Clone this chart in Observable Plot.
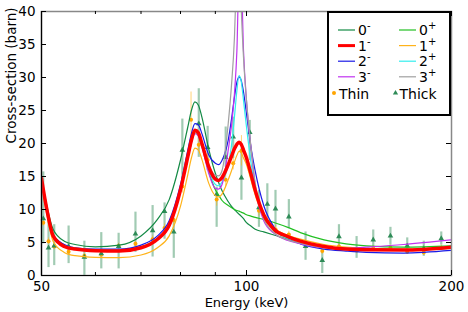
<!DOCTYPE html>
<html><head><meta charset="utf-8">
<script src="https://cdn.jsdelivr.net/npm/d3@7"></script>
<script src="https://cdn.jsdelivr.net/npm/@observablehq/plot@0.6"></script>
<style>body{margin:0;background:#fff;} svg{display:block;}</style>
</head><body><div id="chart"></div>
<script>
// Energy grid (keV) for model curves
const energy = [50, 51, 52, 54, 56, 60, 65, 70, 74, 77, 80, 82, 83, 84, 85, 86, 88, 90, 91, 92, 94, 95, 96, 96.8, 97.5, 98.2, 99, 100, 101.5, 103, 106, 110, 115, 120, 130, 140, 150, 170, 200];
// Model curves (barn)
const c0m = [14.7, 10.2, 7.0, 5.2, 4.7, 4.35, 4.6, 6.0, 8.5, 11.5, 17.5, 22.5, 25.0, 26.3, 25.8, 24.0, 19.2, 15.5, 14.1, 12.9, 11.2, 10.5, 10.0, 9.6, 9.3, 9.0, 8.6, 8.0, 7.5, 7.0, 6.6, 6.1, 5.5, 5.0, 4.4, 4.0, 3.9, 3.9, 4.1];
const c0p = [14.7, 9.7, 6.1, 4.5, 4.1, 3.85, 3.85, 4.35, 5.6, 7.7, 13.1, 18.2, 20.7, 22.1, 21.6, 19.8, 15.8, 13.0, 12.2, 11.4, 10.6, 10.3, 10.0, 9.85, 9.75, 9.6, 9.45, 9.2, 9.0, 8.8, 8.5, 8.0, 7.3, 6.5, 5.4, 4.8, 4.5, 4.3, 4.5];
const c1m = [14.7, 9.6, 6.0, 4.4, 4.0, 3.75, 3.7, 4.2, 5.5, 7.6, 13.0, 18.0, 20.5, 22.0, 21.6, 20.0, 16.5, 14.6, 14.4, 14.8, 16.8, 18.0, 19.2, 19.9, 20.2, 19.9, 19.0, 17.8, 15.4, 12.9, 9.2, 6.9, 5.9, 5.2, 4.4, 4.0, 3.9, 3.85, 4.3];
const c1p = [14.3, 8.8, 5.2, 3.5, 3.0, 2.75, 2.7, 3.1, 4.2, 6.0, 10.5, 15.3, 17.8, 19.3, 19.0, 17.6, 14.0, 12.1, 11.9, 12.3, 14.5, 15.8, 17.2, 18.2, 18.8, 18.6, 17.8, 16.8, 14.5, 12.2, 9.0, 7.1, 6.1, 5.5, 4.7, 4.3, 4.1, 4.0, 4.3];
const c2m = [14.7, 9.8, 6.2, 4.7, 4.2, 4.0, 4.0, 4.6, 6.0, 8.3, 13.8, 19.0, 21.5, 23.0, 22.8, 21.5, 18.3, 17.0, 16.8, 17.4, 20.5, 23.5, 27.0, 29.3, 30.1, 29.6, 27.8, 24.5, 19.5, 15.8, 10.6, 7.2, 5.6, 4.8, 4.0, 3.7, 3.5, 3.4, 3.8];
const c2p = [14.7, 9.7, 6.1, 4.5, 4.1, 3.85, 3.8, 4.3, 5.6, 7.7, 13.1, 18.2, 20.7, 22.1, 21.6, 19.8, 16.0, 13.8, 13.6, 14.1, 16.8, 19.5, 24.0, 28.0, 30.3, 29.5, 26.5, 22.5, 17.2, 13.2, 9.0, 6.8, 5.6, 5.0, 4.3, 4.0, 3.9, 3.9, 4.2];
const c3m = [14.7, 9.6, 6.0, 4.4, 4.0, 3.75, 3.7, 4.2, 5.4, 7.5, 12.8, 17.7, 20.1, 21.5, 21.1, 19.5, 15.5, 13.2, 13.1, 13.7, 19.0, 22.5, 27.5, 34.0, 45.0, 45.0, 34.0, 26.5, 19.5, 13.5, 8.3, 6.3, 5.3, 4.8, 4.2, 4.1, 4.3, 4.7, 5.4];
const c3p = [14.7, 9.7, 6.1, 4.5, 4.1, 3.85, 3.8, 4.3, 5.5, 7.6, 12.9, 17.8, 20.3, 21.6, 21.3, 20.0, 16.8, 15.2, 15.1, 15.8, 23.0, 28.5, 36.0, 47.0, 52.0, 41.0, 33.0, 26.5, 19.5, 14.0, 8.6, 6.4, 5.4, 4.9, 4.2, 4.0, 3.9, 3.9, 4.3];

// "Thick" measurements
const thickE  = [50.3, 51.2, 52.2, 54.8, 57.8, 61.2, 64.9, 68.7, 72.8, 75.8, 78.2, 80.5, 85.1, 87.7, 90.4, 93.2, 95.6, 98.3, 101.1, 104.3, 107.3, 110.3, 115.4, 122.1, 129.2, 136.7, 145.1, 153.5, 162.7, 172.2, 182.1, 193.2];
const thickV  = [8.6, 4.2, 4.5, 4.4, 2.8, 3.3, 4.4, 6.3, 6.8, 9.7, 6.6, 19.0, 23.0, 19.4, 12.3, 17.9, 21.0, 14.8, 21.7, 10.3, 10.8, 10.1, 8.9, 4.4, 2.3, 5.9, 3.9, 5.4, 6.0, 4.5, 4.1, 5.6];
const thickLo = [4.8, 1.2, 1.5, 1.8, 0.0, 1.0, 1.0, 3.5, 2.8, 5.5, 2.6, 13.4, 17.9, 15.9, 7.3, 16.4, 17.7, 11.4, 17.4, 7.3, 7.8, 7.3, 7.1, 2.3, 0.3, 4.2, 2.6, 3.8, 4.6, 3.4, 2.9, 4.6];
const thickHi = [15.7, 9.0, 7.7, 7.5, 5.2, 6.5, 6.4, 9.6, 10.6, 11.0, 8.6, 23.7, 28.3, 22.6, 13.4, 22.5, 24.0, 19.2, 23.5, 12.9, 13.9, 12.9, 11.5, 6.6, 3.9, 7.7, 5.9, 6.9, 7.3, 5.7, 5.2, 6.6];

// "Thin" measurements
const thinE  = [50.3, 51.2, 52.2, 54.8, 57.8, 61.2, 64.9, 68.7, 72.8, 75.8, 78.2, 80.5, 82.9, 85.1, 87.7, 90.4, 93.2, 95.6, 98.3, 101.1, 104.3, 107.3, 110.3, 115.4, 122.1, 129.2, 136.7, 145.1, 153.5, 162.7, 172.2, 182.1, 193.2];
const thinV  = [8.0, 5.2, 4.4, 3.6, 3.0, 3.2, 4.5, 4.8, 5.5, 7.2, 8.4, 13.5, 23.6, 19.8, 17.5, 11.5, 14.5, 17.0, 18.9, 16.0, 9.8, 8.2, 7.0, 6.2, 5.0, 3.7, 4.4, 3.8, 4.1, 4.2, 3.6, 3.5, 4.2];
const thinErr = [0.5, 0.5, 0.4, 0.4, 0.4, 0.4, 0.4, 0.4, 0.5, 0.6, 0.8, 1.0, 4.2, 0.8, 1.0, 1.0, 1.0, 1.0, 2.3, 1.0, 0.8, 0.7, 0.6, 0.5, 0.5, 0.5, 0.4, 0.4, 0.4, 0.4, 0.4, 0.4, 0.4];

// Axis ticks
const xMajor = [50, 100, 200];
const xMinor = [60, 70, 80, 90];
const yTicks = [0, 5, 10, 15, 20, 25, 30, 35, 40];
const xDomain = [50, 200];
const yDomain = [0, 40];

// Series meta (drawing order; 1- on top)
const seriesNames = ["0-", "0+", "1+", "2-", "2+", "3-", "3+", "1-"];
const seriesVals = [c0m, c0p, c1p, c2m, c2p, c3m, c3p, c1m];
const seriesColors = ["#138a45", "#22c022", "#ffb31a", "#1a1ae6", "#33eeee", "#c033f0", "#a0a0a0", "#ff0000"];
const seriesWidths = [1.2, 1.2, 1.2, 1.2, 1.2, 1.2, 1.2, 3.5];

const W = 468, H = 312, mL = 41, mR = 17, mT = 11, mB = 37;
const fw = W - mL - mR, fh = H - mT - mB;

const thick = thickE.map((e, i) => ({e, v: thickV[i], lo: thickLo[i], hi: thickHi[i]}));
const thin = thinE.map((e, i) => ({e, v: thinV[i], lo: thinV[i] - thinErr[i], hi: thinV[i] + thinErr[i]}));

const curveMarks = seriesVals.map((vals, k) =>
  Plot.line(energy.map((e, i) => ({e, v: vals[i]})), {
    x: "e", y: "v", stroke: seriesColors[k], strokeWidth: seriesWidths[k],
    curve: "monotone-x", clip: true
  })
);

const chart = Plot.plot({
  width: W, height: H,
  marginLeft: mL, marginRight: mR, marginTop: mT, marginBottom: mB,
  style: {fontFamily: "DejaVu Sans", fontSize: "13.5px", background: "white", color: "black"},
  x: {type: "log", domain: xDomain},
  y: {domain: yDomain},
  marks: [
    Plot.axisX({ticks: xMajor, tickSize: 0, tickPadding: 5.5, tickFormat: d => String(d), label: null}),
    Plot.axisY({ticks: yTicks, tickSize: 0, tickPadding: 6, tickFormat: d => String(d), label: null}),
    Plot.ruleX(thick, {x: "e", y1: "lo", y2: "hi", stroke: "#2e8b57", strokeOpacity: 0.45, strokeWidth: 2.2, clip: true}),
    Plot.ruleX(thin, {x: "e", y1: "lo", y2: "hi", stroke: "#ffb31a", strokeOpacity: 0.6, strokeWidth: 1, clip: true}),
    Plot.dot(thin, {x: "e", y: "v", r: 2, fill: "#ffa500", stroke: "none"}),
    Plot.dot(thick, {x: "e", y: "v", r: 2.1, symbol: "triangle", fill: "#2e8b57", stroke: "none"}),
    ...curveMarks,
    // frame: grey top/right, black left/bottom
    Plot.frame({stroke: "#888", strokeWidth: 1.5}),
    Plot.ruleY([yDomain[0]], {stroke: "black", strokeWidth: 1.2}),
    Plot.ruleX([xDomain[0]], {stroke: "black", strokeWidth: 1.2}),
    // inward ticks
    Plot.tickX(xMajor, {x: d => d, insetTop: fh - 5, stroke: "black"}),
    Plot.tickX(xMajor, {x: d => d, insetBottom: fh - 5, stroke: "black"}),
    Plot.tickX(xMinor, {x: d => d, insetTop: fh - 3, stroke: "black"}),
    Plot.tickX(xMinor, {x: d => d, insetBottom: fh - 3, stroke: "black"}),
    Plot.tickY(yTicks, {y: d => d, insetRight: fw - 5, stroke: "black"}),
    Plot.tickY(yTicks, {y: d => d, insetLeft: fw - 5, stroke: "black"}),
    Plot.text(["Energy (keV)"], {frameAnchor: "bottom", dy: 31.5, fontSize: 13}),
    Plot.text(["Cross-section (barn)"], {frameAnchor: "left", dx: -30, rotate: -90, fontSize: 13.5})
  ]
});

// Legend
const svg = d3.select(chart);
const lg = svg.append("g").attr("font-family", "DejaVu Sans").attr("font-size", 14).attr("text-anchor", "start").attr("fill", "black");
lg.append("rect").attr("x", 328).attr("y", 12).attr("width", 122).attr("height", 103)
  .attr("fill", "white").attr("stroke", "black").attr("stroke-width", 2);
const legendCols = [
  [["0", "-", "#138a45", 1.2], ["1", "-", "#ff0000", 3], ["2", "-", "#1a1ae6", 1.2], ["3", "-", "#c033f0", 1.2]],
  [["0", "+", "#22c022", 1.2], ["1", "+", "#ffb31a", 1.2], ["2", "+", "#33eeee", 1.2], ["3", "+", "#a0a0a0", 1.2]]
];
const rowY = [30, 45.6, 61.2, 76.8];
const colX = [338, 399];
legendCols.forEach((col, c) => {
  col.forEach((it, r) => {
    const y = rowY[r], x = colX[c];
    lg.append("line").attr("x1", x).attr("x2", x + 17).attr("y1", y).attr("y2", y)
      .attr("stroke", it[2]).attr("stroke-width", it[3]);
    const t = lg.append("text").attr("x", x + 20).attr("y", y + 5);
    t.append("tspan").text(it[0]);
    t.append("tspan").attr("dy", -6).attr("font-size", 10).text(it[1]);
  });
});
lg.append("circle").attr("cx", 334).attr("cy", 93).attr("r", 2).attr("fill", "#ffa500");
lg.append("text").attr("x", 339).attr("y", 98.5).text("Thin");
lg.append("path").attr("d", d3.symbol(d3.symbolTriangle, 12)()).attr("transform", "translate(395.5,93)").attr("fill", "#2e8b57");
lg.append("text").attr("x", 399.5).attr("y", 98.5).text("Thick");

document.getElementById("chart").appendChild(chart);
</script></body></html>
